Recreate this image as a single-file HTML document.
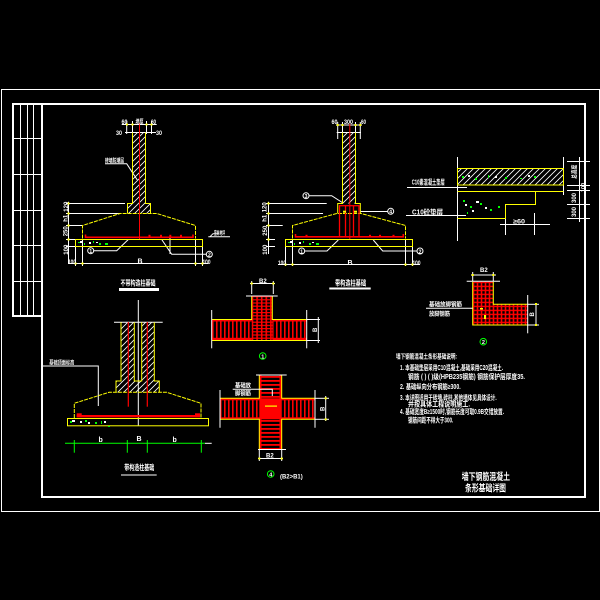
<!DOCTYPE html>
<html><head><meta charset="utf-8">
<style>html,body{margin:0;padding:0;background:#000;}svg{display:block}</style>
</head>
<body>
<svg width="600" height="600" viewBox="0 0 600 600" xmlns="http://www.w3.org/2000/svg" font-family="'Liberation Sans','Noto Sans CJK SC',sans-serif" font-weight="bold">
<defs>
<pattern id="h" width="6" height="6" patternUnits="userSpaceOnUse"><path d="M-1,7 L7,-1 M-1,1 L1,-1 M5,7 L7,5" stroke="#fff" stroke-width="0.8"/></pattern>
<pattern id="gridT" x="251.7" y="296" width="4.6" height="3.2" patternUnits="userSpaceOnUse"><rect width="4.6" height="3.2" fill="#f00"/><rect x="1.6" y="1.2" width="3" height="2" fill="#000"/></pattern>
<pattern id="gridL" x="472.7" y="281.7" width="4" height="4" patternUnits="userSpaceOnUse"><rect width="4" height="4" fill="#f00"/><rect x="1.6" y="1.4" width="2.4" height="2.6" fill="#000"/></pattern>
<pattern id="vslot" x="212" y="0" width="4" height="10" patternUnits="userSpaceOnUse"><rect x="1.6" width="2.4" height="10" fill="#000"/></pattern>
<pattern id="hslot" x="0" y="376" width="10" height="4" patternUnits="userSpaceOnUse"><rect y="1.8" width="10" height="2.2" fill="#000"/></pattern>
</defs>
<rect width="600" height="600" fill="#000"/>

<!-- FRAME -->
<rect x="1.5" y="89.5" width="598" height="422" fill="none" stroke="#fff"/>
<g fill="#fff">
<rect x="12" y="103" width="574" height="2"/>
<rect x="41" y="103" width="2" height="395"/>
<rect x="41" y="496" width="545" height="2"/>
<rect x="584" y="103" width="2" height="395"/>
<rect x="12" y="103" width="2" height="214"/>
<rect x="12" y="315" width="31" height="2"/>
</g>
<g stroke="#fff" stroke-width="1">
<line x1="20.5" y1="104" x2="20.5" y2="316"/>
<line x1="27.5" y1="104" x2="27.5" y2="316"/>
<line x1="33.5" y1="104" x2="33.5" y2="316"/>
<line x1="13" y1="138.5" x2="41" y2="138.5"/>
<line x1="13" y1="174.5" x2="41" y2="174.5"/>
<line x1="13" y1="210.5" x2="41" y2="210.5"/>
<line x1="13" y1="245.5" x2="41" y2="245.5"/>
<line x1="13" y1="281.5" x2="41" y2="281.5"/>
</g>

<!-- FOOTING 1 -->
<g>
<rect x="132.5" y="132.5" width="13" height="71" fill="url(#h)"/>
<rect x="127.5" y="203.5" width="23" height="10" fill="url(#h)"/>
<g stroke="#fff" fill="none" stroke-width="1">
<line x1="121.7" y1="124.5" x2="156.7" y2="124.5"/>
<line x1="125" y1="132.5" x2="156" y2="132.5"/>
<line x1="126.7" y1="121" x2="126.7" y2="134"/>
<line x1="132.5" y1="121" x2="132.5" y2="134"/>
<line x1="146.5" y1="121" x2="146.5" y2="134"/>
<line x1="151.5" y1="121" x2="151.5" y2="134"/>
<line x1="68.5" y1="201.7" x2="68.5" y2="263.3"/>
<line x1="66" y1="203.5" x2="125" y2="203.5"/>
<line x1="66" y1="213.5" x2="120" y2="213.5"/>
<line x1="66" y1="225.5" x2="82" y2="225.5"/>
<line x1="66" y1="239.5" x2="76" y2="239.5"/>
<line x1="66" y1="246.5" x2="76" y2="246.5"/>
<line x1="68" y1="263.5" x2="208.3" y2="263.5"/>
<line x1="75.5" y1="246" x2="75.5" y2="266"/>
<line x1="82.5" y1="239" x2="82.5" y2="266"/>
<line x1="195.5" y1="239" x2="195.5" y2="266"/>
<line x1="202.5" y1="246" x2="202.5" y2="266"/>
<path d="M105,163.7 H126.7 L137.3,180"/>
<path d="M208.3,236.7 H230 M210,236.7 l3,-3 h6"/>
<path d="M128.3,239.5 L116.7,250.7 H94"/>
<path d="M161.7,239.5 L171.7,254.3 H206 M170,237 V254"/>
<circle cx="90.7" cy="250.7" r="3"/>
<circle cx="209.3" cy="254.3" r="3"/>
</g>
<path d="M132.5,132.5 V203.5 H127.5 V213.5 M145.5,132.5 V203.5 H150.5 V213.5" stroke="#ff0" fill="none"/>
<path d="M82.5,238.5 V225.5 L120,213.5 H156.7 L195.5,225.5 V238.5" stroke="#ff0" fill="none" stroke-dasharray="4 1"/>
<rect x="75.5" y="239.5" width="127" height="7" stroke="#ff0" fill="none"/>
<line x1="139.5" y1="123" x2="139.5" y2="239" stroke="#f00"/>
<path d="M85.5,234.5 V237.3 H193 V234.5" stroke="#f00" stroke-width="1.6" fill="none"/>
<g fill="#f00"><rect x="148.5" y="234.8" width="2" height="2"/><rect x="160" y="234.8" width="2" height="2"/><rect x="169.3" y="234.8" width="2" height="2"/><rect x="180" y="234.8" width="2" height="2"/></g>
<g fill="#0f0"><rect x="78" y="242" width="2" height="1"/><rect x="84" y="243" width="1" height="2"/><rect x="93" y="241" width="1" height="2"/><rect x="99" y="243" width="2" height="2"/><rect x="105" y="243" width="3" height="2"/></g>
<g fill="#fff"><rect x="80" y="241" width="2" height="2"/><rect x="89" y="242" width="2" height="2"/><rect x="96" y="242" width="2" height="1"/></g>
<g fill="#ff0"><rect x="126" y="123.5" width="2" height="2"/><rect x="131.5" y="123.5" width="2" height="2"/><rect x="145.5" y="123.5" width="2" height="2"/><rect x="150.5" y="123.5" width="2" height="2"/><rect x="67.5" y="202.5" width="2" height="2"/><rect x="67.5" y="212.5" width="2" height="2"/><rect x="67.5" y="224.5" width="2" height="2"/><rect x="67.5" y="238.5" width="2" height="2"/><rect x="74.5" y="262.5" width="2" height="2"/><rect x="81.5" y="262.5" width="2" height="2"/><rect x="194.5" y="262.5" width="2" height="2"/><rect x="201.5" y="262.5" width="2" height="2"/></g>
<g fill="#fff" font-size="6">
<text x="121.5" y="124" textLength="6" lengthAdjust="spacingAndGlyphs">60</text>
<text x="135.5" y="124" textLength="8" lengthAdjust="spacingAndGlyphs">墙厚</text>
<text x="151" y="124" textLength="5" lengthAdjust="spacingAndGlyphs">60</text>
<text x="116" y="135" textLength="6" lengthAdjust="spacingAndGlyphs">30</text>
<text x="156" y="135" textLength="6" lengthAdjust="spacingAndGlyphs">30</text>
<text x="105" y="162.5" font-size="5.5" textLength="19" lengthAdjust="spacingAndGlyphs">砖墙防潮层</text>
<text x="214" y="235" font-size="5.5" textLength="11" lengthAdjust="spacingAndGlyphs">室外地坪</text>
<text transform="rotate(-90 66 207.7)" x="62" y="209.5">120</text>
<text transform="rotate(-90 66 219.3)" x="63.5" y="221">h1</text>
<text transform="rotate(-90 66 232.3)" x="62" y="234">250</text>
<text transform="rotate(-90 66 250.7)" x="62" y="252.5">100</text>
<text x="68" y="264" textLength="8" lengthAdjust="spacingAndGlyphs">100</text>
<text x="137.5" y="263.5" font-size="7">B</text>
<text x="202.5" y="264" textLength="8" lengthAdjust="spacingAndGlyphs">100</text>
<text x="89.4" y="253" font-size="5">1</text>
<text x="208" y="256.5" font-size="5">2</text>
<text x="120.5" y="285.5" font-size="7.5" textLength="35" lengthAdjust="spacingAndGlyphs">不带构造柱基础</text>
</g>
<rect x="119" y="288" width="40" height="3" fill="#fff"/>
</g>

<!-- FOOTING 2 -->
<g>
<rect x="342.5" y="132.5" width="13" height="71" fill="url(#h)"/>
<g stroke="#fff" fill="none" stroke-width="1">
<line x1="336" y1="125" x2="362" y2="125"/>
<line x1="336.7" y1="132.5" x2="361" y2="132.5"/>
<line x1="337.7" y1="122" x2="337.7" y2="139"/>
<line x1="342.5" y1="122" x2="342.5" y2="133"/>
<line x1="355.5" y1="122" x2="355.5" y2="133"/>
<line x1="360.3" y1="122" x2="360.3" y2="139"/>
<line x1="268.5" y1="201.7" x2="268.5" y2="254"/>
<line x1="266" y1="203.5" x2="326.7" y2="203.5"/>
<line x1="266" y1="213.5" x2="323" y2="213.5"/>
<line x1="266" y1="225.5" x2="282.7" y2="225.5"/>
<line x1="266" y1="239.5" x2="275" y2="239.5"/>
<line x1="266" y1="246.5" x2="275" y2="246.5"/>
<line x1="278" y1="264.5" x2="420" y2="264.5"/>
<line x1="285.5" y1="247" x2="285.5" y2="266"/>
<line x1="292.5" y1="239" x2="292.5" y2="266"/>
<line x1="405.5" y1="239" x2="405.5" y2="266"/>
<line x1="412.5" y1="247" x2="412.5" y2="266"/>
<path d="M309,195.7 H331.7 L343,203"/>
<path d="M360,211.5 H387.5"/>
<path d="M338.3,240 L327,251 H304.7"/>
<path d="M373.3,240 L382.7,251 H417"/>
<circle cx="306" cy="195.7" r="3"/>
<circle cx="390.7" cy="211.3" r="3"/>
<circle cx="301.7" cy="251" r="3"/>
<circle cx="420" cy="251" r="3"/>
</g>
<path d="M342.5,132.5 V203.5 H337.7 V213.5 M355.5,132.5 V203.5 H360.3 V213.5" stroke="#ff0" fill="none"/>
<path d="M292.5,238.5 V225.5 L336.7,213.5 H361 L405.5,225.5 V238.5" stroke="#ff0" fill="none" stroke-dasharray="4 1"/>
<rect x="285.5" y="239.5" width="127" height="7" stroke="#ff0" fill="none"/>
<line x1="349.8" y1="124" x2="349.8" y2="239" stroke="#f00"/>
<g stroke="#f00" fill="none" stroke-width="1.3">
<rect x="339.5" y="205.7" width="19.5" height="31"/>
<line x1="345.5" y1="206" x2="345.5" y2="236.5"/>
<line x1="353.5" y1="206" x2="353.5" y2="236.5"/>
<path d="M295.5,234 V236.8 H403.3 V234" stroke-width="1.6"/>
</g>
<g fill="#f00"><rect x="305.5" y="234.8" width="2" height="2"/><rect x="369" y="234.8" width="2" height="2"/><rect x="379" y="234.8" width="2" height="2"/><rect x="392.5" y="234.8" width="2" height="2"/></g>
<g fill="#ff0"><rect x="343" y="210.7" width="3" height="2"/><rect x="354" y="210.7" width="3" height="2"/><rect x="336.7" y="124" width="2" height="2"/><rect x="341.5" y="124" width="2" height="2"/><rect x="354.5" y="124" width="2" height="2"/><rect x="359.3" y="124" width="2" height="2"/><rect x="267.5" y="202.5" width="2" height="2"/><rect x="267.5" y="212.5" width="2" height="2"/><rect x="267.5" y="224.5" width="2" height="2"/><rect x="267.5" y="238.5" width="2" height="2"/><rect x="284.5" y="263.5" width="2" height="2"/><rect x="291.5" y="263.5" width="2" height="2"/><rect x="404.5" y="263.5" width="2" height="2"/><rect x="411.5" y="263.5" width="2" height="2"/></g>
<g fill="#0f0"><rect x="288" y="242" width="2" height="1"/><rect x="294" y="243" width="1" height="2"/><rect x="303" y="241" width="1" height="2"/><rect x="309" y="243" width="2" height="2"/><rect x="316" y="243" width="3" height="2"/></g>
<g fill="#fff"><rect x="290" y="241" width="2" height="2"/><rect x="299" y="242" width="2" height="2"/><rect x="312" y="242" width="2" height="1"/></g>
<g fill="#fff" font-size="6">
<text x="331.5" y="124" textLength="6" lengthAdjust="spacingAndGlyphs">60</text>
<text x="344" y="124" textLength="9" lengthAdjust="spacingAndGlyphs">300</text>
<text x="361" y="124" textLength="5" lengthAdjust="spacingAndGlyphs">60</text>
<text transform="rotate(-90 265 208.3)" x="261" y="210">120</text>
<text transform="rotate(-90 265 219.3)" x="262.5" y="221">h1</text>
<text transform="rotate(-90 265 231.7)" x="261" y="233.5">250</text>
<text transform="rotate(-90 265 250.7)" x="261" y="252.5">100</text>
<text x="278" y="265" textLength="8" lengthAdjust="spacingAndGlyphs">100</text>
<text x="347.5" y="265" font-size="7">B</text>
<text x="412.5" y="265" textLength="8" lengthAdjust="spacingAndGlyphs">100</text>
<text x="304.6" y="198" font-size="5">3</text>
<text x="389.3" y="213.6" font-size="5">4</text>
<text x="300.3" y="253.3" font-size="5">1</text>
<text x="418.6" y="253.3" font-size="5">2</text>
<text x="335" y="285.5" font-size="7.5" textLength="31" lengthAdjust="spacingAndGlyphs">带构造柱基础</text>
</g>
<rect x="329.3" y="287.5" width="41.4" height="2" fill="#fff"/>
</g>

<!-- TOP RIGHT SECTION -->
<g>
<rect x="457.5" y="168.5" width="106" height="16.5" fill="url(#h)"/>
<g stroke="#fff" fill="none">
<line x1="457.5" y1="157" x2="457.5" y2="241"/>
<line x1="563.5" y1="157" x2="563.5" y2="195"/>
<line x1="407" y1="187.5" x2="467" y2="187.5"/>
<line x1="406" y1="215.5" x2="466" y2="215.5"/>
<line x1="500" y1="224.5" x2="550" y2="224.5"/>
<line x1="505.5" y1="205" x2="505.5" y2="235"/>
<line x1="534.5" y1="213" x2="534.5" y2="235"/>
<line x1="579.5" y1="157" x2="579.5" y2="222"/>
<line x1="567" y1="161.5" x2="590" y2="161.5"/>
<line x1="567" y1="185.5" x2="590" y2="185.5"/>
<line x1="567" y1="190.5" x2="590" y2="190.5"/>
<line x1="567" y1="204.5" x2="590" y2="204.5"/>
<line x1="567" y1="218.5" x2="590" y2="218.5"/>
</g>
<rect x="457.5" y="168.5" width="106" height="16.5" fill="none" stroke="#ff0"/>
<path d="M457.5,191.5 H563.5 M535.5,191.5 V204.5 H505.5 V218.5 H457.5" stroke="#ff0" fill="none"/>
<g fill="#0f0"><rect x="462" y="176" width="2" height="2"/><rect x="475" y="178" width="2" height="2"/><rect x="488" y="175" width="1" height="3"/><rect x="505" y="177" width="2" height="2"/><rect x="520" y="178" width="2" height="1"/><rect x="534" y="176" width="2" height="2"/><rect x="463" y="200" width="2" height="2"/><rect x="470" y="206" width="2" height="2"/><rect x="480" y="203" width="2" height="2"/><rect x="490" y="209" width="2" height="2"/><rect x="498" y="206" width="2" height="2"/><rect x="467" y="212" width="1" height="2"/></g>
<g fill="#fff"><rect x="468" y="175" width="2" height="2"/><rect x="495" y="176" width="2" height="2"/><rect x="528" y="175" width="2" height="2"/><rect x="465" y="204" width="2" height="2"/><rect x="476" y="201" width="3" height="2"/><rect x="485" y="207" width="2" height="2"/><rect x="472" y="210" width="2" height="2"/></g>
<g fill="#fff" font-size="7">
<text x="411.7" y="184.5" textLength="33" lengthAdjust="spacingAndGlyphs">C10素混凝土垫层</text>
<text x="412" y="214.3" textLength="31" lengthAdjust="spacingAndGlyphs">C10砼垫层</text>
<text x="513" y="223.5" font-size="6.5" textLength="12" lengthAdjust="spacingAndGlyphs">≥60</text>
<text transform="rotate(-90 574 171.7)" x="567" y="174" font-size="6" textLength="14" lengthAdjust="spacingAndGlyphs">总高度</text>
<text transform="rotate(-90 583 188)" x="579" y="190" font-size="5.5">100</text>
<text transform="rotate(-90 574 198)" x="569" y="200" font-size="6">300</text>
<text transform="rotate(-90 574 212)" x="569" y="214" font-size="6">300</text>
</g>
</g>

<!-- T SHAPE 1 -->
<g>
<rect x="211.7" y="319.3" width="95" height="20.7" fill="#f00"/>
<rect x="211.7" y="321.5" width="95" height="16.3" fill="url(#vslot)"/>
<rect x="251.7" y="296" width="20.6" height="44" fill="url(#gridT)"/>
<path d="M251.7,296 V319.5 H211.7 M272.3,296 V319.5 H306.7 M211.7,340.5 H306.7" stroke="#ff0" fill="none"/>
<g stroke="#fff" fill="none">
<line x1="250" y1="283.5" x2="275" y2="283.5"/>
<line x1="251.7" y1="281" x2="251.7" y2="294"/>
<line x1="273.3" y1="281" x2="273.3" y2="294"/>
<line x1="246" y1="296" x2="277.7" y2="296"/>
<line x1="211.7" y1="310" x2="211.7" y2="348.3"/>
<line x1="306.7" y1="310" x2="306.7" y2="348.3"/>
<line x1="307" y1="319.5" x2="320" y2="319.5"/>
<line x1="307" y1="340.5" x2="320" y2="340.5"/>
<line x1="318.3" y1="317" x2="318.3" y2="343"/>
</g>
<g fill="#ff0"><rect x="250.7" y="282.5" width="2" height="2"/><rect x="272.3" y="282.5" width="2" height="2"/></g>
<circle cx="262.7" cy="356" r="3.3" stroke="#0f0" fill="none"/>
<g fill="#fff">
<text x="259" y="283" font-size="6">B2</text>
<text transform="rotate(-90 315 330)" x="313" y="332" font-size="6">B</text>
<text x="261.3" y="358.3" font-size="5.5">1</text>
</g>
</g>

<!-- L SHAPE 2 -->
<g>
<path d="M472.7,281.7 H493.3 V304.3 H527.7 V325 H472.7 Z" fill="url(#gridL)"/>
<path d="M493.3,281.7 V304.3 H527.7 M472.7,281.7 V325 H527.7" stroke="#ff0" fill="none"/>
<g stroke="#fff" fill="none">
<line x1="471" y1="275" x2="496" y2="275"/>
<line x1="472.7" y1="272" x2="472.7" y2="281"/>
<line x1="493.3" y1="272" x2="493.3" y2="281"/>
<line x1="466.7" y1="281.2" x2="500" y2="281.2"/>
<line x1="527.7" y1="295" x2="527.7" y2="333.3"/>
<line x1="536" y1="303.3" x2="536" y2="326"/>
<line x1="528" y1="304.3" x2="539" y2="304.3"/>
<line x1="528" y1="325" x2="539" y2="325"/>
<line x1="426" y1="308.3" x2="472.7" y2="308.3"/>
</g>
<g fill="#ff0"><rect x="471.7" y="274" width="2" height="2"/><rect x="492.3" y="274" width="2" height="2"/><rect x="535" y="303" width="2" height="2"/><rect x="535" y="324" width="2" height="2"/><rect x="480" y="308" width="3" height="1.5"/><rect x="484" y="315" width="2" height="4"/></g>
<circle cx="483.3" cy="341.7" r="3.3" stroke="#0f0" fill="none"/>
<g fill="#fff">
<text x="480" y="272" font-size="6">B2</text>
<text transform="rotate(-90 532 314.5)" x="530" y="316.5" font-size="6">B</text>
<text x="429" y="306.5" font-size="6" textLength="33" lengthAdjust="spacingAndGlyphs">基础放脚钢筋</text>
<text x="429" y="316" font-size="6" textLength="21" lengthAdjust="spacingAndGlyphs">放脚钢筋</text>
<text x="481.9" y="344" font-size="5.5">2</text>
</g>
</g>

<!-- CROSS 4 -->
<g>
<rect x="259.3" y="375" width="22.4" height="74.3" fill="#f00"/>
<rect x="261.5" y="375.5" width="18" height="73.5" fill="url(#hslot)"/>
<rect x="220" y="398.3" width="95" height="21" fill="#f00"/>
<rect x="220" y="400.3" width="39.3" height="17" fill="url(#vslot)"/>
<rect x="281.7" y="400.3" width="33.3" height="17" fill="url(#vslot)"/>
<path d="M259.3,375 V398.3 H220 M281.7,375 V398.3 H315 M259.3,449.3 V419.3 H220 M281.7,449.3 V419.3 H315" stroke="#ff0" fill="none"/>
<g stroke="#fff" fill="none">
<line x1="256" y1="375" x2="286.7" y2="375"/>
<line x1="258" y1="449.5" x2="286" y2="449.5"/>
<line x1="220" y1="390" x2="220" y2="427.7"/>
<line x1="315" y1="390" x2="315" y2="427.7"/>
<line x1="315" y1="398.3" x2="329" y2="398.3"/>
<line x1="315" y1="419.3" x2="329" y2="419.3"/>
<line x1="325.7" y1="396" x2="325.7" y2="421"/>
<line x1="259.3" y1="449" x2="259.3" y2="461"/>
<line x1="281.7" y1="449" x2="281.7" y2="461"/>
<line x1="258" y1="458.5" x2="283" y2="458.5"/>
<path d="M232.7,389.3 H272.3 V396"/>
</g>
<g fill="#ff0"><rect x="324.7" y="397.3" width="2" height="2"/><rect x="324.7" y="418.3" width="2" height="2"/><rect x="258.3" y="457.5" width="2" height="2"/><rect x="280.7" y="457.5" width="2" height="2"/><rect x="265" y="405.5" width="12" height="1.2"/></g>
<circle cx="270.7" cy="474" r="3.3" stroke="#0f0" fill="none"/>
<g fill="#fff">
<text x="235" y="387.5" font-size="6" textLength="16" lengthAdjust="spacingAndGlyphs">基础放</text>
<text x="235" y="395.5" font-size="6" textLength="16" lengthAdjust="spacingAndGlyphs">脚钢筋</text>
<text transform="rotate(-90 322.7 409)" x="320.7" y="411" font-size="6">B</text>
<text x="266" y="457.5" font-size="6">B2</text>
<text x="269.3" y="476.3" font-size="5.5">4</text>
<text x="280" y="478.5" font-size="6.5" textLength="22.7" lengthAdjust="spacingAndGlyphs">(B2&gt;B1)</text>
</g>
</g>

<!-- FOOTING 3 -->
<g>
<rect x="121" y="322.3" width="13.3" height="58.7" fill="url(#h)"/>
<rect x="141.7" y="322.3" width="12.6" height="58.7" fill="url(#h)"/>
<rect x="116" y="381" width="43.3" height="11.3" fill="url(#h)"/>
<g stroke="#fff" fill="none">
<line x1="138.3" y1="300" x2="138.3" y2="425.7"/>
<line x1="114" y1="322.3" x2="162.7" y2="322.3"/>
<path d="M43,366 H98.3 V406"/>
<line x1="205" y1="443.3" x2="211.7" y2="443.3"/>
</g>
<path d="M121,322.3 V381 H116 V392.3 M154.3,322.3 V381 H159.3 V392.3 M134.3,322.3 V381 H141.7 V322.3" stroke="#ff0" fill="none"/>
<path d="M74.3,418 V403.3 L109,392.3 H166.7 L201,403.3 V418" stroke="#ff0" fill="none" stroke-dasharray="4 1"/>
<rect x="67.5" y="418.5" width="141" height="7.3" stroke="#ff0" fill="none"/>
<g stroke="#f00" stroke-width="1.2">
<line x1="128.3" y1="322" x2="128.3" y2="406.7"/>
<line x1="147.3" y1="322" x2="147.3" y2="406.7"/>
</g>
<rect x="76.7" y="415" width="123.3" height="2.4" fill="#f00"/>
<rect x="76.7" y="413.3" width="5" height="4" fill="#f00"/>
<rect x="195" y="413.3" width="5" height="4" fill="#f00"/>
<g fill="#0f0"><rect x="70" y="421" width="2" height="2"/><rect x="85" y="420" width="2" height="2"/><rect x="95" y="422" width="2" height="2"/><rect x="101" y="421" width="1" height="3"/><rect x="108" y="426" width="2" height="1"/></g>
<g fill="#fff"><rect x="72" y="420" width="3" height="2"/><rect x="80" y="421" width="2" height="2"/><rect x="88" y="422" width="2" height="2"/><rect x="104" y="421" width="2" height="2"/></g>
<g stroke="#0f0" fill="none">
<line x1="65" y1="443.3" x2="205" y2="443.3"/>
<line x1="74.3" y1="440" x2="74.3" y2="452.7"/>
<line x1="127.3" y1="440" x2="127.3" y2="452.7"/>
<line x1="147.3" y1="440" x2="147.3" y2="452.7"/>
<line x1="201.3" y1="440" x2="201.3" y2="452.7"/>
</g>
<g fill="#fff">
<text x="49.3" y="364.5" font-size="5.5" textLength="25" lengthAdjust="spacingAndGlyphs">基础顶面标高</text>
<text x="98.5" y="442" font-size="7">b</text>
<text x="136.5" y="441" font-size="7">B</text>
<text x="172.5" y="442" font-size="7">b</text>
<text x="124.3" y="470" font-size="7.5" textLength="30" lengthAdjust="spacingAndGlyphs">带构造柱基础</text>
</g>
<rect x="121" y="474.5" width="35.7" height="1" fill="#fff"/>
</g>

<!-- NOTES -->
<g fill="#fff" font-size="7">
<text x="396" y="358.5" font-size="6.5" textLength="61" lengthAdjust="spacingAndGlyphs">墙下钢筋混凝土条形基础说明:</text>
<text x="400" y="370" textLength="103" lengthAdjust="spacingAndGlyphs">1. 本基础垫层采用C10混凝土,基础采用C20混凝土.</text>
<text x="408" y="379" textLength="117" lengthAdjust="spacingAndGlyphs">钢筋 (  )  (  )级(HPB235钢筋) 钢筋保护层厚度35.</text>
<text x="400" y="389" textLength="60.7" lengthAdjust="spacingAndGlyphs">2. 基础纵向分布钢筋≥300.</text>
<text x="400" y="400" textLength="96.7" lengthAdjust="spacingAndGlyphs">3. 本详图适用于砖墙,砖柱,其他墙体见具体设计.</text>
<text x="408" y="406.5" textLength="62" lengthAdjust="spacingAndGlyphs">并按具体工程说明施工.</text>
<text x="400" y="414" textLength="104" lengthAdjust="spacingAndGlyphs">4. 基础宽度B≥1500时,钢筋长度可取0.9B交错放置.</text>
<text x="408" y="422.5" textLength="45.3" lengthAdjust="spacingAndGlyphs">钢筋间距不得大于300.</text>
<text x="461.7" y="480" font-size="9.5" textLength="48.3" lengthAdjust="spacingAndGlyphs">墙下钢筋混凝土</text>
<text x="465" y="491.5" font-size="9.5" textLength="41" lengthAdjust="spacingAndGlyphs">条形基础详图</text>
</g>
</svg>
</body>
</html>
